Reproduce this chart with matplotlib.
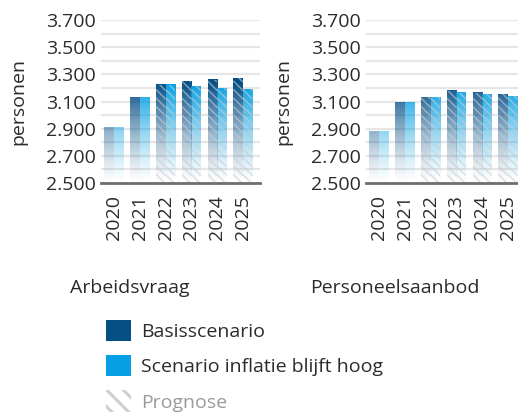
import numpy as np
import matplotlib
matplotlib.use("Agg")
import matplotlib.pyplot as plt
from matplotlib.patches import Patch, Rectangle
from matplotlib.collections import LineCollection
from matplotlib.ticker import MultipleLocator, FuncFormatter

plt.rcParams['font.family'] = ['Open Sans', 'DejaVu Sans']

# ---- data ----
years = ['2020', '2021', '2022', '2023', '2024', '2025']
first_forecast = 2  # 2022 and later are "Prognose"

vraag_basis = [2910, 3130, 3225, 3248, 3260, 3270]
vraag_inflatie = [2910, 3130, 3225, 3211, 3199, 3192]
aanbod_basis = [2880, 3093, 3130, 3179, 3164, 3155]
aanbod_inflatie = [2880, 3093, 3130, 3164, 3152, 3140]

panels = ['Arbeidsvraag', 'Personeelsaanbod']
series_names = ['Basisscenario', 'Scenario inflatie blijft hoog']
colors = ['#054f87', '#04a0e3']

YMIN, YMAX = 2500, 3700
XMIN, XMAX = -0.5, 5.66
W, H = 518, 412
AX_W, AX_H = 159, 163
fig = plt.figure(figsize=(W / 100, H / 100), dpi=100)
fig.patch.set_facecolor('white')

txt = '#2b2b2b'
fs = 14
# data units per pixel
ux = (XMAX - XMIN) / AX_W
uy = (YMAX - YMIN) / AX_H


def fade_bar(ax, x0, width, top, color):
    rgb = np.array(matplotlib.colors.to_rgb(color))
    n = 200
    ys = np.linspace(top, YMIN, n)
    a = np.clip((ys - YMIN) / (3230 - YMIN), 0, 1) ** 1.25
    img = np.zeros((n, 1, 4))
    img[:, 0, :3] = rgb
    img[:, 0, 3] = a
    ax.imshow(img, extent=[x0, x0 + width, YMIN, top], aspect='auto',
              interpolation='bilinear', zorder=2)


def hatch_bar(ax, x0, width, top, step=8.5):
    # diagonal "\" lines, 45 degrees on screen, clipped to the bar
    rect = Rectangle((x0, YMIN), width, top - YMIN, transform=ax.transData)
    wpx = width / ux
    segs = []
    c = YMIN
    while c < top + wpx * uy:
        segs.append([(x0, c), (x0 + width, c - wpx * uy)])
        c += step * uy
    lc = LineCollection(segs, colors=[(0.8, 0.8, 0.8, 0.6)], linewidths=1.1,
                        zorder=3)
    ax.add_collection(lc)
    lc.set_clip_path(rect)


def draw_panel(ax, basis, inflatie):
    x = np.arange(len(years))
    bw = 0.37
    for vals, off, col in [(basis, -bw, colors[0]), (inflatie, 0, colors[1])]:
        for i, v in enumerate(vals):
            fade_bar(ax, x[i] + off, bw, v, col)
            if i >= first_forecast:
                hatch_bar(ax, x[i] + off, bw, v)
    ax.set_xlim(XMIN, XMAX)
    ax.set_ylim(YMIN, YMAX)
    ax.set_yticks(np.arange(YMIN, YMAX + 1, 200))
    ax.yaxis.set_minor_locator(MultipleLocator(100))
    ax.yaxis.set_major_formatter(FuncFormatter(lambda v, p: f"{int(v):,}".replace(',', '.')))
    ax.grid(axis='y', which='both', color='#e6e6e6', linewidth=1.6, zorder=0)
    ax.set_axisbelow(True)
    for s in ['top', 'right', 'left']:
        ax.spines[s].set_visible(False)
    ax.spines['bottom'].set_color('#6f6f6f')
    ax.spines['bottom'].set_linewidth(2)
    ax.spines['bottom'].set_zorder(5)
    ax.set_xticks(x)
    ax.set_xticklabels(years, rotation=90)
    ax.tick_params(axis='x', length=0, pad=9, labelsize=fs, labelcolor=txt)
    ax.tick_params(axis='y', which='both', length=0, pad=4, labelsize=fs, labelcolor=txt)
    ax.set_ylabel('personen', fontsize=fs, color=txt)
    ax.yaxis.set_label_coords(-0.46, 0.5)


lefts = [101, 366]
data = [(vraag_basis, vraag_inflatie), (aanbod_basis, aanbod_inflatie)]
for k, left in enumerate(lefts):
    ax = fig.add_axes([left / W, 1 - 183 / H, AX_W / W, AX_H / H])
    draw_panel(ax, *data[k])
    fig.text((left - 101 + 130) / W, 1 - 288 / H, panels[k], ha='center',
             va='center', fontsize=fs, color=txt)

plt.rcParams['hatch.linewidth'] = 2.2
handles = [Patch(facecolor=colors[0], edgecolor='none'),
           Patch(facecolor=colors[1], edgecolor='none'),
           Patch(facecolor='none', edgecolor='#cfcfcf', hatch='\\\\', linewidth=0)]
leg = fig.legend(handles, series_names + ['Prognose'], loc='upper left',
                 bbox_to_anchor=(106 / W, 1 - 320 / H), frameon=False,
                 fontsize=fs, handlelength=1.3, handleheight=1.3,
                 handletextpad=0.5, labelspacing=0.72, borderpad=0,
                 borderaxespad=0)
for t, c in zip(leg.get_texts(), [txt, txt, '#9a9a9a']):
    t.set_color(c)

fig.savefig('out.png', dpi=100)
